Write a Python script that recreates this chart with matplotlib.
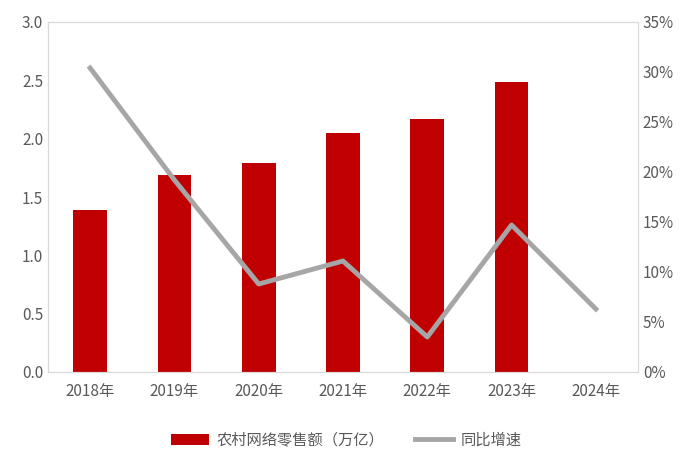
import matplotlib.pyplot as plt
import numpy as np

plt.rcParams['font.family'] = ['Noto Sans CJK SC', 'DejaVu Sans']

years = ['2018年', '2019年', '2020年', '2021年', '2022年', '2023年', '2024年']
sales = [1.39, 1.69, 1.79, 2.05, 2.17, 2.49, np.nan]
growth = [30.4, 19.2, 8.8, 11.1, 3.5, 14.7, 6.3]

fig = plt.figure(figsize=(6.93, 4.72), dpi=100)
ax = fig.add_axes([48/693, 100/472, 590/693, 350/472])
x = np.arange(len(years))
ax.bar(x, sales, width=0.4, color='#C00000', label='农村网络零售额（万亿）', zorder=2)
ax.set_ylim(0, 3.0)
ax.set_yticks(np.arange(0, 3.01, 0.5))
ax.set_yticklabels([f'{v:.1f}' for v in np.arange(0, 3.01, 0.5)])
ax.set_xlim(-0.5, len(years) - 0.5)
ax.set_xticks(x)
ax.set_xticklabels(years)
ax2 = ax.twinx()
ax2.plot(x, growth, color='#A6A6A6', lw=3.5, label='同比增速', zorder=3)
ax2.set_ylim(0, 35)
ax2.set_yticks(np.arange(0, 36, 5))
ax2.set_yticklabels([f'{v}%' for v in range(0, 36, 5)])
for a in (ax, ax2):
    a.tick_params(length=0, labelsize=11, colors='#595959')
    for s in a.spines.values():
        s.set_color('#D9D9D9')
ax.tick_params(axis='x', pad=8)
h1, l1 = ax.get_legend_handles_labels()
h2, l2 = ax2.get_legend_handles_labels()
fig.legend(h1 + h2, l1 + l2, loc='lower center', bbox_to_anchor=(0.5, 0.02), ncol=2,
           frameon=False, fontsize=11, labelcolor='#595959', columnspacing=2,
           handlelength=2.5, handletextpad=0.5)
fig.savefig('out.png', dpi=100)
